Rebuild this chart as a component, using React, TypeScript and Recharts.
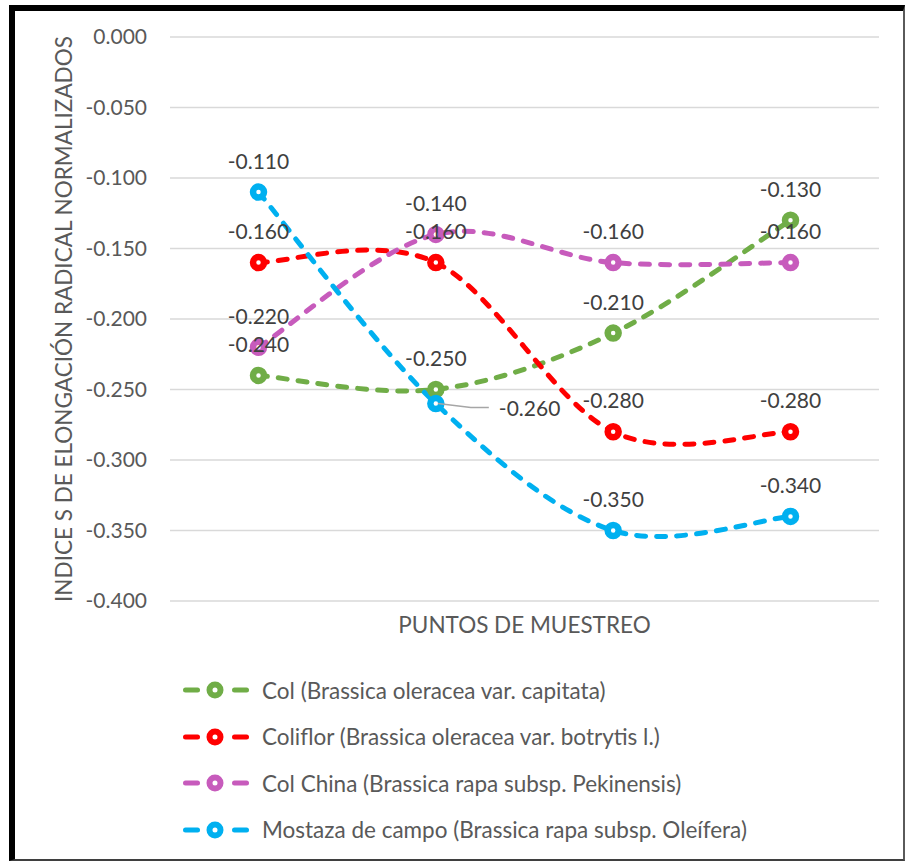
import { LineChart, Line, XAxis, YAxis, CartesianGrid, LabelList, Legend } from "recharts";

const categories = ["M1", "M2", "M3", "M4"];
const col = [-0.24, -0.25, -0.21, -0.13];
const coliflor = [-0.16, -0.16, -0.28, -0.28];
const colChina = [-0.22, -0.14, -0.16, -0.16];
const mostaza = [-0.11, -0.26, -0.35, -0.34];
const yTicks = [0, -0.05, -0.1, -0.15, -0.2, -0.25, -0.3, -0.35, -0.4];

const SERIES = [
  { key: "col", name: "Col (Brassica oleracea var. capitata)", color: "#70ad47", values: col },
  { key: "coliflor", name: "Coliflor (Brassica oleracea var. botrytis l.)", color: "#ff0000", values: coliflor },
  { key: "colChina", name: "Col China (Brassica rapa subsp. Pekinensis)", color: "#c75bbc", values: colChina },
  { key: "mostaza", name: "Mostaza de campo (Brassica rapa subsp. Oleífera)", color: "#00b0f0", values: mostaza },
];

const data = categories.map((c, i) => {
  const row: Record<string, string | number> = { cat: c };
  SERIES.forEach((s) => (row[s.key] = s.values[i]));
  return row;
});

const FONT = "Lato, 'Noto Sans', sans-serif";
const TEXT = "#595959";
const TITLE_SIZE = 22.5;
const fmt = (v: number) => (Math.abs(v) < 1e-9 ? "0.000" : v.toFixed(3));

// spreadsheet-style smoothing: cubic beziers with control points at 1/6 of the neighbour span
const smoothCurve = (context: any) => {
  let pts: number[][] = [];
  return {
    areaStart() {},
    areaEnd() {},
    lineStart() {
      pts = [];
    },
    point(x: number, y: number) {
      pts.push([+x, +y]);
    },
    lineEnd() {
      if (!pts.length) return;
      context.moveTo(pts[0][0], pts[0][1]);
      for (let i = 0; i < pts.length - 1; i++) {
        const p0 = pts[Math.max(i - 1, 0)];
        const p1 = pts[i];
        const p2 = pts[i + 1];
        const p3 = pts[Math.min(i + 2, pts.length - 1)];
        context.bezierCurveTo(
          p1[0] + (p2[0] - p0[0]) / 6,
          p1[1] + (p2[1] - p0[1]) / 6,
          p2[0] - (p3[0] - p1[0]) / 6,
          p2[1] - (p3[1] - p1[1]) / 6,
          p2[0],
          p2[1]
        );
      }
    },
  };
};

// value labels sit above each marker; one index can be moved aside with a leader line
const makeLabel = (sideIndex?: number) => (props: any) => {
  const { x, y, value, index } = props;
  if (index === sideIndex) {
    return (
      <g key={`lbl-${index}`}>
        <polyline
          points={`${x + 2},${y} ${x + 35},${y + 4} ${x + 53},${y + 4}`}
          fill="none"
          stroke="#a6a6a6"
          strokeWidth={1.5}
        />
        <text x={x + 63} y={y + 4} dominantBaseline="central" fill="#404040" fontSize={21} fontFamily={FONT}>
          {fmt(value)}
        </text>
      </g>
    );
  }
  return (
    <text
      key={`lbl-${index}`}
      x={x}
      y={y - 32}
      textAnchor="middle"
      dominantBaseline="central"
      fill="#404040"
      fontSize={21}
      fontFamily={FONT}
    >
      {fmt(value)}
    </text>
  );
};

const XTick = (props: any) => (
  <text x={props.x} y={props.y} textAnchor="middle" dominantBaseline="central" fill={TEXT} fontSize={21} fontFamily={FONT}>
    {props.payload.value}
  </text>
);

const YTitle = (props: any) => {
  const vb = props.viewBox;
  const cx = vb.x + 48;
  const cy = vb.y + vb.height / 2;
  return (
    <text
      x={cx}
      y={cy}
      transform={`rotate(-90 ${cx} ${cy})`}
      textAnchor="middle"
      dominantBaseline="central"
      fill={TEXT}
      fontSize={TITLE_SIZE}
      fontFamily={FONT}
    >
      INDICE S DE ELONGACIÓN RADICAL NORMALIZADOS
    </text>
  );
};

const LegendBox = () => (
  <div style={{ fontFamily: FONT, fontSize: TITLE_SIZE, color: TEXT }}>
    {SERIES.map((s) => (
      <div key={s.key} style={{ height: 46.5, display: "flex", alignItems: "center", whiteSpace: "nowrap" }}>
        <svg width={67} height={20} style={{ marginRight: 12 }}>
          <line x1={2.5} y1={10} x2={14.5} y2={10} stroke={s.color} strokeWidth={5} strokeLinecap="round" />
          <line x1={51.5} y1={10} x2={63.5} y2={10} stroke={s.color} strokeWidth={5} strokeLinecap="round" />
          <circle cx={32} cy={10} r={5.5} fill="#fff" stroke={s.color} strokeWidth={6} />
        </svg>
        <span>{s.name}</span>
      </div>
    ))}
  </div>
);

export default function App() {
  return (
    <div
      style={{
        position: "absolute",
        left: 9,
        top: 5,
        width: 888,
        height: 848,
        borderLeft: "6px solid #000",
        borderTop: "6px solid #000",
        borderRight: "2px solid #5a5a5a",
        borderBottom: "2px solid #3f3f3f",
        background: "#fff",
        fontFamily: FONT,
      }}
    >
      <LineChart width={888} height={848} data={data} margin={{ top: 26, right: 24, left: 0, bottom: 258 }}>
        <CartesianGrid vertical={false} stroke="#d9d9d9" strokeWidth={1.5} />
        <XAxis
          dataKey="cat"
          orientation="top"
          mirror
          height={0}
          axisLine={false}
          tickLine={false}
          tickSize={0}
          tickMargin={31}
          padding={{ left: 88.5, right: 88.5 }}
          tick={<XTick />}
        />
        <YAxis
          width={155}
          domain={[-0.4, 0]}
          ticks={yTicks}
          tickFormatter={fmt}
          axisLine={false}
          tickLine={false}
          tickSize={0}
          tickMargin={23}
          tick={{ fill: TEXT, fontSize: 21, fontFamily: FONT }}
          label={<YTitle />}
        />
        {SERIES.map((s) => (
          <Line
            key={s.key}
            dataKey={s.key}
            name={s.name}
            type={smoothCurve as any}
            stroke={s.color}
            strokeWidth={5}
            strokeDasharray="9 11"
            strokeLinecap="round"
            isAnimationActive={false}
            dot={(p: any) => (
              <circle key={`${s.key}-${p.index}`} cx={p.cx} cy={p.cy} r={5.5} fill="#fff" stroke={s.color} strokeWidth={6.5} />
            )}
            activeDot={false}
          >
            <LabelList dataKey={s.key} content={makeLabel(s.key === "mostaza" ? 1 : undefined)} />
          </Line>
        ))}
        <Legend
          layout="vertical"
          align="center"
          verticalAlign="middle"
          content={<LegendBox />}
          wrapperStyle={{ position: "absolute", left: 168, top: 656, width: "auto", height: "auto" }}
        />
      </LineChart>
      <div
        style={{
          position: "absolute",
          left: 155,
          top: 602,
          width: 709,
          lineHeight: "24px",
          textAlign: "center",
          fontSize: TITLE_SIZE,
          color: TEXT,
        }}
      >
        PUNTOS DE MUESTREO
      </div>
    </div>
  );
}
